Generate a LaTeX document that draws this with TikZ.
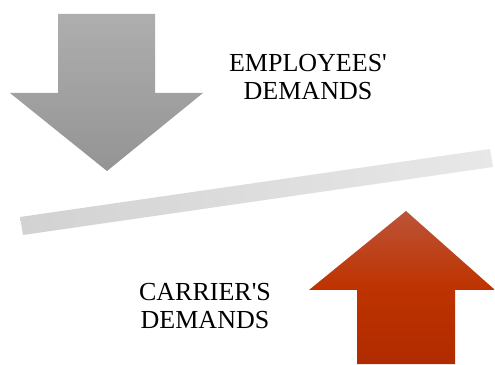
\documentclass[tikz,border=0pt]{standalone}
\usepackage{fontspec}
\newfontfamily\capfont{Liberation Serif}
\definecolor{grayTop}{HTML}{AEAEAE}
\definecolor{grayBot}{HTML}{949494}
\definecolor{redTop}{HTML}{BC5438}
\definecolor{redMid}{HTML}{BE3300}
\definecolor{redBot}{HTML}{B02B00}
\definecolor{barL}{HTML}{D2D2D2}
\definecolor{barR}{HTML}{E8E8E8}
\tikzset{
  grayarrow/.style={top color=grayTop,bottom color=grayBot,draw=none},
  redarrow/.style={top color=redTop,bottom color=redBot,middle color=redMid,draw=none},
  lever/.style={left color=barL,right color=barR,draw=none},
  caption/.style={font=\capfont\fontsize{26}{27.5}\selectfont,align=center,text=black,inner sep=0pt}
}
\begin{document}
\begin{tikzpicture}[x=1pt,y=1pt]
\useasboundingbox (0,0) rectangle (495,364);
\fill[white] (0,0) rectangle (495,364);
\shade[grayarrow] (58,350) -- (155,350) -- (155,271) -- (203,271) -- (107,193) -- (10,271) -- (58,271) -- cycle;
\shade[redarrow] (406,153) -- (495,74) -- (455,74) -- (455,0) -- (357,0) -- (357,74) -- (309,74) -- cycle;
\shade[lever] (20,147) -- (490,215) -- (493,197) -- (23,129) -- cycle;
\node[caption] (employees) at (308,287) {EMPLOYEES'\\DEMANDS};
\node[caption] (carrier) at (205,58) {CARRIER'S\\DEMANDS};
\end{tikzpicture}
\end{document}
